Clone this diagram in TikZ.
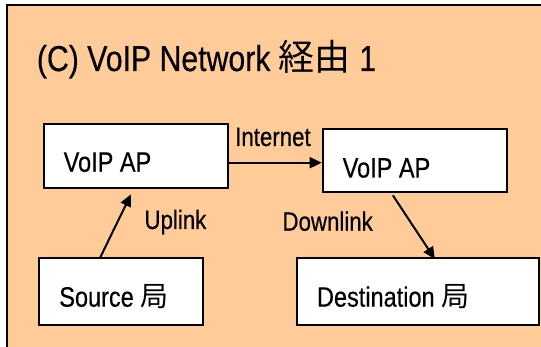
\documentclass[tikz,border=0pt]{standalone}
\usepackage{fontspec}
\setmainfont{Liberation Sans}
\newfontfamily\narrowsf[FakeStretch=0.84,FakeBold=0.4]{Liberation Sans}
\newfontfamily\cjk{Noto Sans CJK JP}
\usetikzlibrary{arrows.meta}
\definecolor{peach}{RGB}{255,204,153}

\begin{document}
\begin{tikzpicture}[x=1pt,y=-1pt,
	box/.style={draw,line width=2pt,fill=white,anchor=north west,inner xsep=20pt,inner ysep=0pt,align=flush left,text depth=0pt,font=\narrowsf\fontsize{28}{32}\selectfont},
	lbl/.style={anchor=base west,inner sep=0pt,font=\narrowsf\fontsize{26.5}{30}\selectfont},
	arr/.style={line width=2pt,-{Triangle[length=12pt,width=11pt]}}]
		\useasboundingbox (0,0) rectangle (541,347);
		\clip (0,0) rectangle (541,347);
		\fill[white] (0,0) rectangle (541,347);
		\draw[line width=1.8pt,fill=peach] (7,5) rectangle (570,370);
		
		\node[anchor=base west,inner sep=0pt,font=\narrowsf\fontsize{36}{40}\selectfont] (title) at (36.7,71) {(C) VoIP Network {\cjk 経由} 1};
		
		\node[box,text width=144.6pt,minimum height=64pt,text height=32pt] (apL) at (42.7,122.7) {VoIP AP};
		\node[box,text width=144.3pt,minimum height=62.4pt,text height=34pt] (apR) at (321.7,128.3) {VoIP AP};
		\node[box,text width=124pt,minimum height=66.7pt,text height=30pt] (src) at (38.3,257.3) {Source {\cjk 局}};
		\node[box,text width=201.7pt,minimum height=66.7pt,text height=30pt] (dst) at (296,257.3) {Destination {\cjk 局}};
		
		\draw[arr] ([yshift=-7pt]apL.east) -- ([yshift=-7pt]apL.east -| apR.west);
		\draw[arr] ([xshift=-21pt]src.north) -- ([xshift=-5pt,yshift=-5.6pt]apL.south);
		\draw[arr] ([xshift=-22pt,yshift=-2.6pt]apR.south) -- ([xshift=17pt,yshift=-1.7pt]dst.north);
		
		\node[lbl] (inet) at (235,146) {Internet};
		\node[lbl] (up) at (144.3,229) {Uplink};
		\node[lbl] (down) at (282.3,230.7) {Downlink};
\end{tikzpicture}
\end{document}
